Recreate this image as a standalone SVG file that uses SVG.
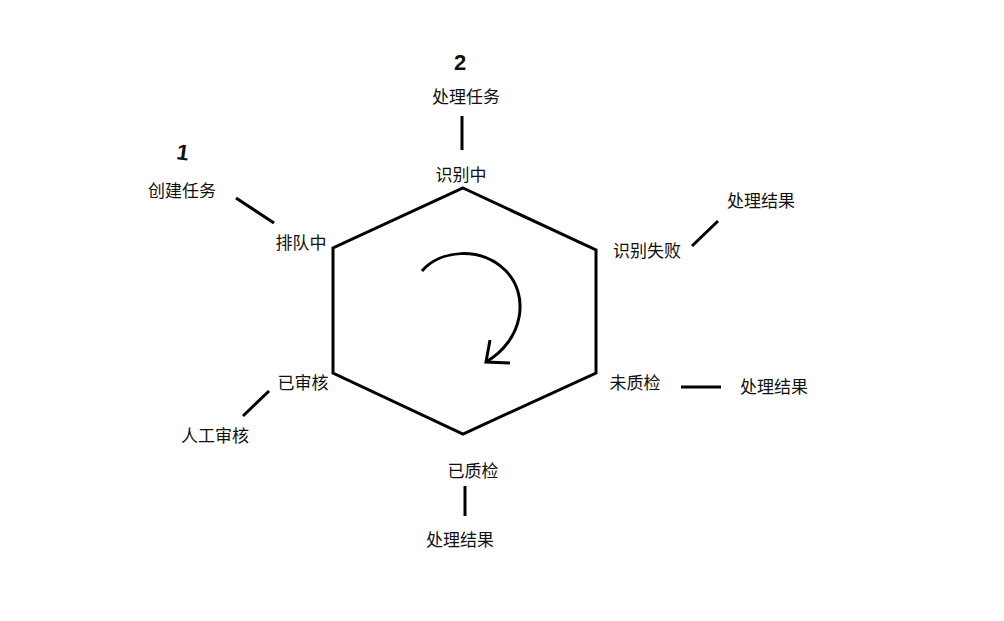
<svg xmlns="http://www.w3.org/2000/svg" width="1004" height="621" viewBox="0 0 1004 621">
<style>
text{font-family:"Microsoft YaHei","Noto Sans CJK SC",sans-serif;font-size:17px;fill:#111;text-anchor:middle}
.hand{font-family:"Liberation Sans",sans-serif;font-weight:bold;font-size:22px}
.ln{stroke:#000;stroke-width:3;fill:none;stroke-linecap:butt}
</style>
<rect width="1004" height="621" fill="#fff"/>
<g id="hexagon">
<polygon class="ln" points="463,188 596,250 596,373 463,434 333,373 333,248" stroke-linejoin="miter"/>
</g>
<g id="cycle-arrow">
<path class="ln" stroke-width="2.5" d="M422,271 C440,250 480,246 505,270 C530,294 524,340 486,362"/>
<path class="ln" stroke-width="2.5" d="M490,340 L486,362 L510,363"/>
</g>
<g id="node-recognizing"><text x="461" y="181">识别中</text></g>
<g id="node-process-task"><text x="466" y="103">处理任务</text></g>
<g id="node-queue"><text x="301" y="249">排队中</text></g>
<g id="node-create-task"><text x="182" y="197">创建任务</text></g>
<g id="node-fail"><text x="647" y="257">识别失败</text></g>
<g id="node-result1"><text x="761" y="207">处理结果</text></g>
<g id="node-unchecked"><text x="635" y="389">未质检</text></g>
<g id="node-result2"><text x="774" y="393">处理结果</text></g>
<g id="node-reviewed"><text x="303" y="389">已审核</text></g>
<g id="node-manual"><text x="215" y="442">人工审核</text></g>
<g id="node-checked"><text x="473" y="477">已质检</text></g>
<g id="node-result3"><text x="460" y="546">处理结果</text></g>
<g id="marks">
<text class="hand" x="183" y="160" transform="rotate(8 183 152)">1</text>
<text class="hand" x="460" y="70">2</text>
</g>
<g id="connectors">
<line class="ln" x1="462" y1="116" x2="462" y2="150"/>
<line class="ln" x1="236" y1="198" x2="274" y2="223"/>
<line class="ln" x1="692" y1="246" x2="718" y2="221"/>
<line class="ln" x1="681" y1="387" x2="721" y2="387"/>
<line class="ln" x1="243" y1="416" x2="269" y2="391"/>
<line class="ln" x1="465" y1="486" x2="465" y2="516"/>
</g>
</svg>
